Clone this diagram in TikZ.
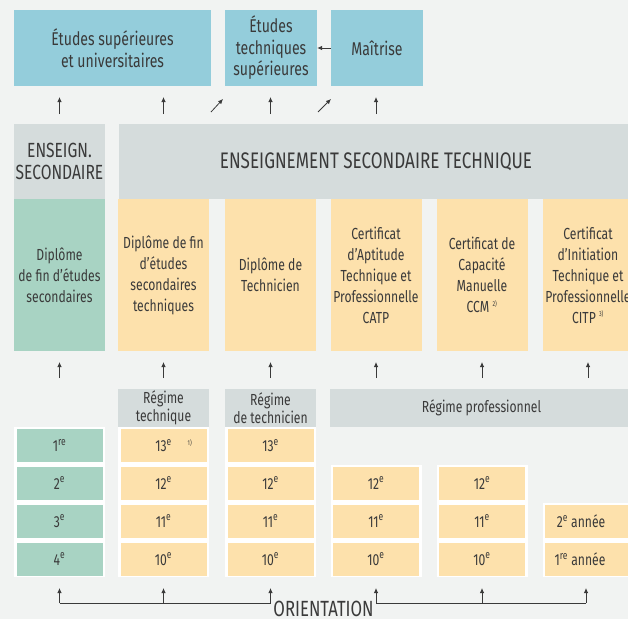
\documentclass[tikz,border=0pt]{standalone}
\usepackage{fontspec}
\setmainfont{Fira Sans}[FakeStretch=0.76]
\usetikzlibrary{arrows.meta}
\usetikzlibrary{positioning}
\definecolor{cbg}{HTML}{F1F3F2}
\definecolor{cblue}{HTML}{94CDDB}
\definecolor{cgray}{HTML}{D5DCDC}
\definecolor{cgreen}{HTML}{A8D3C3}
\definecolor{corange}{HTML}{FDE1AC}
\definecolor{ctext}{HTML}{3A3A3A}
\tikzset{box/.style = {inner sep = 0, align = center, text = ctext, font = \fontsize{16}{21}\selectfont}}
\tikzset{blubox/.style = {box, fill = cblue, minimum height = 76, font = \fontsize{18.5}{21.5}\selectfont}}
\tikzset{grybox/.style = {box, fill = cgray}}
\tikzset{dipbox/.style = {box, minimum width = 91, minimum height = 152}}
\tikzset{yrbox/.style = {box, minimum width = 86, minimum height = 33, font = \fontsize{16}{18}\selectfont}}
\tikzset{up/.style = {-{Latex[length=5pt, width=4.5pt]}, line width = 0.8pt, draw = ctext}}
\newcommand{\fn}[1]{\textsuperscript{\scriptsize #1}}

\begin{document}
\begin{tikzpicture}[x = 1pt, y = -1pt]
    \fill [cbg] (0, 0) rectangle (628, 619);
    \useasboundingbox (0, 0) rectangle (628, 619);

    \node [blubox, minimum width = 197] (esu) at (112.5, 48) {Études supérieures\\et universitaires};
    \node [blubox, minimum width = 92] (ets) at (271, 48) {Études\\techniques\\supérieures};
    \node [blubox, minimum width = 92] (mai) at (377, 48) {Maîtrise};
    \draw [up] (mai) -- (ets);

    \foreach \x [count = \i] in {59.5, 163.5, 270.5, 376} {
      \coordinate (ua\i) at (\x, 114);
      \coordinate (ub\i) at (\x, 97);
      \draw [up] (ua\i) -- (ub\i);
    }
    \coordinate (da1) at (211, 112);
    \coordinate (db1) at (223, 99);
    \coordinate (da2) at (318, 112);
    \coordinate (db2) at (331, 99);
    \draw [up] (da1) -- (db1);
    \draw [up] (da2) -- (db2);

    \node [grybox, minimum width = 91, minimum height = 75, font = \fontsize{20.5}{22}\selectfont] (ens) at (59.5, 161.5) {ENSEIGN.\\SECONDAIRE};
    \node [grybox, minimum width = 514, minimum height = 75, font = \fontsize{22.5}{22}\selectfont] (est) at (376, 161.5) {ENSEIGNEMENT SECONDAIRE TECHNIQUE};

    \node [dipbox, fill = cgreen] (dfs) at (59.5, 275) {Diplôme\\de fin d’études\\secondaires};
    \node [dipbox, fill = corange] (dst) at (163.5, 275) {Diplôme de fin\\d’études\\secondaires\\techniques};
    \node [dipbox, fill = corange] (dte) at (270.5, 275) {Diplôme de\\Technicien};
    \node [dipbox, fill = corange] (catp) at (376, 275) {Certificat\\d’Aptitude\\Technique et\\Professionnelle\\CATP};
    \node [dipbox, fill = corange] (ccm) at (482, 275) {Certificat de\\Capacité\\Manuelle\\CCM \fn{2)}};
    \node [dipbox, fill = corange] (citp) at (588, 275) {Certificat\\d’Initiation\\Technique et\\Professionnelle\\CITP \fn{3)}};

    \foreach \x [count = \i] in {59.5, 163.5, 270.5, 376, 482, 588} {
      \coordinate (va\i) at (\x, 378);
      \coordinate (vb\i) at (\x, 362);
      \draw [up] (va\i) -- (vb\i);
    }

    \node [grybox, minimum width = 91, minimum height = 38, font = \fontsize{16}{18.5}\selectfont] (rte) at (163.5, 408) {Régime\\technique};
    \node [grybox, minimum width = 91, minimum height = 38, font = \fontsize{16}{18.5}\selectfont] (rtc) at (270.5, 408) {Régime\\de technicien};
    \node [grybox, minimum width = 303, minimum height = 38, font = \fontsize{16}{18.5}\selectfont] (rpr) at (481.5, 408) {Régime professionnel};

    \fill [white] (14, 427) rectangle (105, 577);
    \fill [white] (118, 427) rectangle (209, 577);
    \fill [white] (225, 427) rectangle (316, 577);
    \fill [white] (330.5, 464.5) rectangle (421.5, 577);
    \fill [white] (436.5, 464.5) rectangle (527.5, 577);
    \fill [white] (542.5, 502.5) rectangle (633.5, 577);

    \node [yrbox, fill = cgreen] (s1) at (59.5, 445.5) {1\textsuperscript{re}};
    \node [yrbox, fill = cgreen] (s2) at (59.5, 483) {2\textsuperscript{e}};
    \node [yrbox, fill = cgreen] (s3) at (59.5, 521) {3\textsuperscript{e}};
    \node [yrbox, fill = cgreen] (s4) at (59.5, 559) {4\textsuperscript{e}};

    \node [yrbox, fill = corange] (t13) at (163.5, 445.5) {13\textsuperscript{e}\rlap{\quad\fn{1)}}};
    \node [yrbox, fill = corange] (t12) at (163.5, 483) {12\textsuperscript{e}};
    \node [yrbox, fill = corange] (t11) at (163.5, 521) {11\textsuperscript{e}};
    \node [yrbox, fill = corange] (t10) at (163.5, 559) {10\textsuperscript{e}};

    \node [yrbox, fill = corange] (c13) at (270.5, 445.5) {13\textsuperscript{e}};
    \node [yrbox, fill = corange] (c12) at (270.5, 483) {12\textsuperscript{e}};
    \node [yrbox, fill = corange] (c11) at (270.5, 521) {11\textsuperscript{e}};
    \node [yrbox, fill = corange] (c10) at (270.5, 559) {10\textsuperscript{e}};

    \node [yrbox, fill = corange] (a12) at (376, 483) {12\textsuperscript{e}};
    \node [yrbox, fill = corange] (a11) at (376, 521) {11\textsuperscript{e}};
    \node [yrbox, fill = corange] (a10) at (376, 559) {10\textsuperscript{e}};

    \node [yrbox, fill = corange] (m12) at (482, 483) {12\textsuperscript{e}};
    \node [yrbox, fill = corange] (m11) at (482, 521) {11\textsuperscript{e}};
    \node [yrbox, fill = corange] (m10) at (482, 559) {10\textsuperscript{e}};

    \node [yrbox, fill = corange] (i2) at (588, 521) {\hspace*{-14pt}2\textsuperscript{e} année};
    \node [yrbox, fill = corange] (i1) at (588, 559) {\hspace*{-16pt}1\textsuperscript{re} année};

    \node [box, font = \fontsize{22}{22}\selectfont] (ori) at (323.5, 609) {ORIENTATION};

    \foreach \x [count = \i] in {59.5, 163.5, 270.5, 376, 482, 586} {
      \coordinate (oa\i) at (\x, 603);
      \coordinate (ob\i) at (\x, 588);
      \draw [up] (oa\i) -- (ob\i);
    }
    \draw [line width = 0.8pt, ctext] (oa1) -- (oa3);
    \draw [line width = 0.8pt, ctext] (oa4) -- (oa6);
  \end{tikzpicture}
\end{document}
